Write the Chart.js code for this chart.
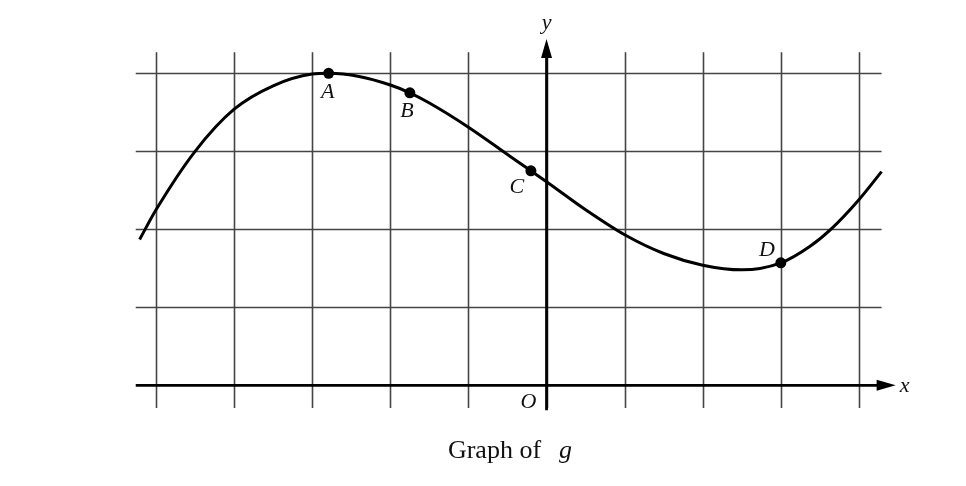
<!DOCTYPE html>
<html>
<head>
<meta charset="utf-8">
<script src="https://cdn.jsdelivr.net/npm/chart.js@4/dist/chart.umd.min.js"></script>
<style>
html,body{margin:0;padding:0;background:#fff;}
canvas{display:block;}
</style>
</head>
<body>
<canvas id="c" width="966" height="486"></canvas>
<script>
// ---- data ----
const curveX = [-5.21, -5.0, -4.5, -4.0, -3.5, -3.0, -2.79, -2.4, -2.0, -1.75, -1.5, -1.0, -0.5, -0.2, 0.0, 0.5, 1.0, 1.5, 2.0, 2.5, 3.0, 3.37, 3.65, 4.0, 4.29];
const curveY = [1.87, 2.25, 3.0, 3.54, 3.84, 3.99, 4.0, 3.96, 3.85, 3.75, 3.62, 3.31, 2.96, 2.75, 2.61, 2.25, 1.93, 1.69, 1.54, 1.48, 1.57, 1.78, 2.01, 2.38, 2.74];
const pointLabels = ['A', 'B', 'C', 'D'];
const pointX = [-2.79, -1.75, -0.2, 3.0];
const pointY = [4.0, 3.75, 2.75, 1.57];
const xGridTicks = [-5, -4, -3, -2, -1, 0, 1, 2, 3, 4];
const yGridTicks = [1, 2, 3, 4];
const axisLabelX = 'x';
const axisLabelY = 'y';
const originLabel = 'O';
const captionText = 'Graph of';
const captionVar = 'g';

const curveData = curveX.map((x, i) => ({x: x, y: curveY[i]}));
const markData = pointX.map((x, i) => ({x: x, y: pointY[i]}));

const SERIF = '"Liberation Serif", "DejaVu Serif", serif';

const gridPlugin = {
  id: 'gridAxes',
  beforeDatasetsDraw(chart) {
    const ctx = chart.ctx;
    const xs = chart.scales.x, ys = chart.scales.y;
    const px = v => xs.getPixelForValue(v);
    const py = v => ys.getPixelForValue(v);
    ctx.save();
    // grid lines
    ctx.strokeStyle = '#454545';
    ctx.lineWidth = 1.6;
    const gxMin = -5.26, gxMax = 4.29, gyMin = -0.29, gyMax = 4.27;
    xGridTicks.forEach(t => {
      ctx.beginPath();
      ctx.moveTo(Math.round(px(t)) + 0.5, py(gyMin));
      ctx.lineTo(Math.round(px(t)) + 0.5, py(gyMax));
      ctx.stroke();
    });
    yGridTicks.forEach(t => {
      ctx.beginPath();
      ctx.moveTo(px(gxMin), Math.round(py(t)) + 0.5);
      ctx.lineTo(px(gxMax), Math.round(py(t)) + 0.5);
      ctx.stroke();
    });
    // axes
    ctx.strokeStyle = '#000';
    ctx.fillStyle = '#000';
    ctx.lineWidth = 2.8;
    const x0 = px(0), y0 = py(0);
    const xTip = px(4.47), yTip = py(4.44);
    ctx.beginPath();
    ctx.moveTo(px(gxMin), y0);
    ctx.lineTo(xTip - 10, y0);
    ctx.stroke();
    ctx.beginPath();
    ctx.moveTo(x0, py(-0.32));
    ctx.lineTo(x0, yTip + 10);
    ctx.stroke();
    // arrow heads
    ctx.beginPath();
    ctx.moveTo(xTip, y0);
    ctx.lineTo(xTip - 19, y0 - 5.5);
    ctx.lineTo(xTip - 19, y0 + 5.5);
    ctx.closePath();
    ctx.fill();
    ctx.beginPath();
    ctx.moveTo(x0, yTip);
    ctx.lineTo(x0 - 5.5, yTip + 19);
    ctx.lineTo(x0 + 5.5, yTip + 19);
    ctx.closePath();
    ctx.fill();
    ctx.restore();
  },
  afterDatasetsDraw(chart) {
    const ctx = chart.ctx;
    const xs = chart.scales.x, ys = chart.scales.y;
    const px = v => xs.getPixelForValue(v);
    const py = v => ys.getPixelForValue(v);
    ctx.save();
    ctx.fillStyle = '#111';
    ctx.textAlign = 'center';
    ctx.textBaseline = 'middle';
    ctx.font = 'italic 22px ' + SERIF;
    const offs = [[-1, 19], [-3, 18], [-14, 16], [-14, -13]];
    pointLabels.forEach((lab, i) => {
      ctx.fillText(lab, px(pointX[i]) + offs[i][0], py(pointY[i]) + offs[i][1]);
    });
    ctx.fillText(originLabel, px(0) - 18, py(0) + 17);
    ctx.fillText(axisLabelX, px(4.47) + 9, py(0) + 1);
    ctx.fillText(axisLabelY, px(0), py(4.44) - 16);
    // caption
    ctx.textAlign = 'left';
    ctx.textBaseline = 'alphabetic';
    ctx.font = '26px ' + SERIF;
    const w1 = ctx.measureText(captionText).width;
    ctx.font = 'italic 26px ' + SERIF;
    const w2 = ctx.measureText(captionVar).width;
    const gap = 18;
    const total = w1 + gap + w2;
    const startX = 510 - total / 2;
    const base = 458;
    ctx.font = '26px ' + SERIF;
    ctx.fillText(captionText, startX, base);
    ctx.font = 'italic 26px ' + SERIF;
    ctx.fillText(captionVar, startX + w1 + gap, base);
    ctx.restore();
  }
};

new Chart(document.getElementById('c'), {
  type: 'scatter',
  data: {
    datasets: [
      {
        data: curveData,
        showLine: true,
        borderColor: '#000',
        borderWidth: 3,
        pointRadius: 0,
        cubicInterpolationMode: 'monotone',
        fill: false
      },
      {
        data: markData,
        showLine: false,
        pointRadius: 5.5,
        pointBackgroundColor: '#000',
        pointBorderColor: '#000',
        pointBorderWidth: 0
      }
    ]
  },
  options: {
    responsive: false,
    animation: false,
    layout: {padding: 0, autoPadding: false},
    plugins: {legend: {display: false}, tooltip: {enabled: false}, title: {display: false}},
    scales: {
      x: {type: 'linear', display: false, min: -6.998, max: 5.371},
      y: {type: 'linear', display: false, min: -1.291, max: 4.940}
    }
  },
  plugins: [gridPlugin]
});
</script>
</body>
</html>
